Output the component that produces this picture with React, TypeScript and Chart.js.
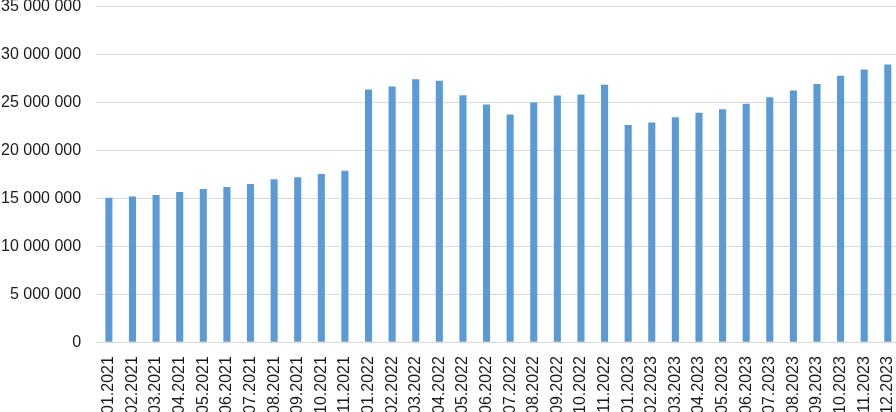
import React, { useEffect, useRef } from "react";
import { Chart, registerables } from "chart.js";

Chart.register(...registerables);

const categories = [
  "01.2021", "02.2021", "03.2021", "04.2021", "05.2021", "06.2021", "07.2021", "08.2021", "09.2021", "10.2021", "11.2021",
  "01.2022", "02.2022", "03.2022", "04.2022", "05.2022", "06.2022", "07.2022", "08.2022", "09.2022", "10.2022", "11.2022",
  "01.2023", "02.2023", "03.2023", "04.2023", "05.2023", "06.2023", "07.2023", "08.2023", "09.2023", "10.2023", "11.2023", "12.2023",
];

const values = [
  15070000, 15200000, 15350000, 15660000, 15970000, 16180000, 16490000, 16980000, 17200000, 17530000, 17880000,
  26350000, 26670000, 27430000, 27260000, 25760000, 24790000, 23750000, 25000000, 25730000, 25830000, 26840000,
  22640000, 22920000, 23470000, 23920000, 24300000, 24860000, 25550000, 26250000, 26940000, 27780000, 28440000, 28960000,
];

const yMin = 0;
const yMax = 35000000;
const yStep = 5000000;

const formatNum = (v: number) => String(Math.round(v)).replace(/\B(?=(\d{3})+(?!\d))/g, " ");

const W = 936;
const H = 447;

export default function App() {
  const ref = useRef<HTMLCanvasElement | null>(null);
  useEffect(() => {
    if (!ref.current) return;
    const chart = new Chart(ref.current, {
      type: "bar",
      data: {
        labels: categories,
        datasets: [
          {
            data: values,
            backgroundColor: "#5B9BD5",
            borderWidth: 0,
            barPercentage: 0.6,
            categoryPercentage: 0.5,
          },
        ],
      },
      options: {
        animation: false,
        responsive: false,
        maintainAspectRatio: false,
        layout: { padding: 0 },
        plugins: { legend: { display: false }, tooltip: { enabled: false } },
        scales: {
          x: {
            grid: { display: false, drawTicks: false },
            border: { display: true, color: "#d9d9d9", width: 1 },
            ticks: {
              minRotation: 90,
              maxRotation: 90,
              autoSkip: false,
              padding: 14,
              color: "#1a1a1a",
              font: { family: "'Liberation Sans', Arial, sans-serif", size: 16 },
            },
          },
          y: {
            min: yMin,
            max: yMax,
            grid: { color: "#d9d9d9", lineWidth: 1, drawTicks: false },
            border: { display: false },
            ticks: {
              stepSize: yStep,
              padding: 16,
              color: "#1a1a1a",
              font: { family: "'Liberation Sans', Arial, sans-serif", size: 16 },
              callback: (v: any) => formatNum(Number(v)),
            },
          },
        },
      },
    });
    return () => chart.destroy();
  }, []);
  return (
    <div style={{ position: "fixed", left: 0, top: 0, width: 896, height: 412, overflow: "hidden", background: "#fff" }}>
      <div style={{ position: "absolute", left: -15, top: -19, width: W, height: H }}>
        <canvas ref={ref} width={W} height={H} style={{ width: W, height: H, display: "block" }} />
      </div>
    </div>
  );
}
